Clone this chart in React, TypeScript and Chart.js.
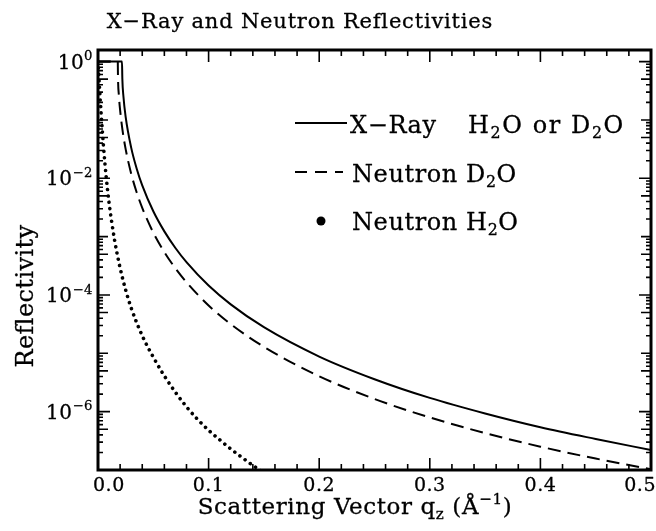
import { useEffect, useRef } from "react";
import { Chart, registerables } from "chart.js";

Chart.register(...registerables);

// Reflectivity curves for a water surface
const qXray = [0, 0.0217, 0.022, 0.023, 0.025, 0.03, 0.035, 0.04, 0.05, 0.06, 0.07, 0.08, 0.1, 0.12, 0.15, 0.2, 0.25, 0.3, 0.35, 0.4, 0.45, 0.5];
const rXray = [1, 1, 0.515, 0.252, 0.113, 0.0335, 0.0146, 0.00756, 0.00272, 0.00123, 0.000638, 0.000365, 0.000145, 6.9e-5, 2.8e-5, 8.8e-6, 3.6e-6, 1.72e-6, 9.3e-7, 5.4e-7, 3.4e-7, 2.2e-7];

const qD2O = [0, 0.0179, 0.018, 0.019, 0.02, 0.022, 0.025, 0.03, 0.035, 0.04, 0.05, 0.06, 0.07, 0.08, 0.1, 0.12, 0.15, 0.2, 0.25, 0.3, 0.35, 0.4, 0.45, 0.5];
const rD2O = [1, 1, 0.655, 0.248, 0.147, 0.0701, 0.0316, 0.012, 0.00572, 0.00311, 0.00117, 0.000543, 0.000286, 0.000165, 6.6e-5, 3.16e-5, 1.29e-5, 4.04e-6, 1.65e-6, 7.95e-7, 4.29e-7, 2.51e-7, 1.57e-7, 1.03e-7];

const qH2O = [0, 0.0005, 0.001, 0.002, 0.003, 0.005, 0.0075, 0.01, 0.015, 0.02, 0.025, 0.03, 0.04, 0.05, 0.06, 0.07, 0.08, 0.09, 0.1, 0.11, 0.12, 0.13, 0.14, 0.15];
const rH2O = [1, 0.686, 0.473, 0.229, 0.116, 0.0347, 0.0102, 0.00383, 8.7e-4, 2.9e-4, 1.22e-4, 6.0e-5, 2.0e-5, 8.6e-6, 4.1e-6, 2.15e-6, 1.21e-6, 7.4e-7, 4.8e-7, 3.3e-7, 2.3e-7, 1.65e-7, 1.2e-7, 9.0e-8];

const xTickValues = [0, 0.1, 0.2, 0.3, 0.4, 0.5];
const xTickLabels = ["0.0", "0.1", "0.2", "0.3", "0.4", "0.5"];
const yLabelExponents = [0, -2, -4, -6];
const xRange = [0, 0.5];
const yRange = [1e-7, 1.58];

const titleText = "X−Ray and Neutron Reflectivities";
const yTitleText = "Reflectivity";
type Run = [string, "" | "sub" | "sup"];
const xTitleRuns: Run[] = [["Scattering Vector q", ""], ["z", "sub"], [" (Å", ""], ["−1", "sup"], [")", ""]];
const legendSamples = ["solid", "dashed", "dot"];
const legendRuns: Run[][][] = [
  [[["X−Ray", ""]], [["H", ""], ["2", "sub"], ["O or D", ""], ["2", "sub"], ["O", ""]]],
  [[["Neutron D", ""], ["2", "sub"], ["O", ""]]],
  [[["Neutron H", ""], ["2", "sub"], ["O", ""]]],
];

const FAMILY = "'DejaVu Serif', serif";

function setSpacing(ctx: CanvasRenderingContext2D, px: number) {
  (ctx as any).letterSpacing = `${px}px`;
}

function runsWidth(ctx: CanvasRenderingContext2D, runs: Run[], size: number) {
  let w = 0;
  for (const [t, k] of runs) {
    ctx.font = `${k ? size * 0.66 : size}px ${FAMILY}`;
    w += ctx.measureText(t).width;
  }
  return w;
}

function drawText(ctx: CanvasRenderingContext2D, t: string, x: number, y: number) {
  ctx.fillText(t, x, y);
  ctx.strokeText(t, x, y);
}

function drawRuns(ctx: CanvasRenderingContext2D, runs: Run[], x: number, y: number, size: number, align: "left" | "center" | "right") {
  const w = runsWidth(ctx, runs, size);
  let cx = align === "left" ? x : align === "center" ? x - w / 2 : x - w;
  ctx.textAlign = "left";
  ctx.textBaseline = "alphabetic";
  for (const [t, k] of runs) {
    const s = k ? size * 0.66 : size;
    ctx.font = `${s}px ${FAMILY}`;
    const dy = k === "sub" ? size * 0.22 : k === "sup" ? -size * 0.42 : 0;
    drawText(ctx, t, cx, y + dy);
    cx += ctx.measureText(t).width;
  }
}

const decorPlugin = {
  id: "decor",
  afterDatasetsDraw(chart: any) {
    const { ctx, chartArea: a, scales } = chart;
    const xs = scales.x;
    const ys = scales.y;
    ctx.save();
    ctx.strokeStyle = "#000";
    ctx.fillStyle = "#000";

    // inward ticks on all four sides
    ctx.lineWidth = 1.6;
    ctx.beginPath();
    for (let i = 0; i <= 25; i++) {
      const px = xs.getPixelForValue(i * 0.02);
      const len = i % 5 === 0 ? 12 : 6;
      ctx.moveTo(px, a.bottom);
      ctx.lineTo(px, a.bottom - len);
      ctx.moveTo(px, a.top);
      ctx.lineTo(px, a.top + len);
    }
    for (let e = -7; e <= 0; e++) {
      for (let m = 1; m <= 9; m++) {
        const v = m * Math.pow(10, e);
        if (v < yRange[0] * 0.999 || v > yRange[1]) continue;
        const py = ys.getPixelForValue(v);
        let len = 5;
        if (m === 1) len = e % 2 === 0 ? 12 : 10;
        else if (m === 5) len = 10;
        ctx.moveTo(a.left, py);
        ctx.lineTo(a.left + len, py);
        ctx.moveTo(a.right, py);
        ctx.lineTo(a.right - len, py);
      }
    }
    ctx.stroke();

    // frame
    ctx.lineWidth = 3;
    ctx.strokeRect(a.left, a.top, a.right - a.left, a.bottom - a.top);

    // text is filled and lightly stroked for a slightly heavier weight
    ctx.lineWidth = 0.3;
    ctx.lineJoin = "round";

    // x tick labels
    setSpacing(ctx, 0.5);
    ctx.font = `19px ${FAMILY}`;
    ctx.textBaseline = "alphabetic";
    xTickValues.forEach((v, i) => {
      const px = xs.getPixelForValue(v);
      const y = a.bottom + 21;
      if (i === 0) {
        ctx.textAlign = "left";
        drawText(ctx, xTickLabels[i], px - 5, y);
      } else if (i === xTickValues.length - 1) {
        ctx.textAlign = "right";
        drawText(ctx, xTickLabels[i], px + 5, y);
      } else {
        ctx.textAlign = "center";
        drawText(ctx, xTickLabels[i], px, y);
      }
    });

    // y tick labels as powers of ten
    setSpacing(ctx, 0.5);
    yLabelExponents.forEach((e) => {
      const py = ys.getPixelForValue(Math.pow(10, e));
      const sup = e < 0 ? "−" + String(-e) : String(e);
      drawRuns(ctx, [["10", ""], [sup, "sup"]], a.left - 5, py + 7, 20, "right");
    });

    // chart title
    setSpacing(ctx, 0.8);
    ctx.font = `21px ${FAMILY}`;
    ctx.textAlign = "center";
    drawText(ctx, titleText, 300, 28);

    // axis titles
    setSpacing(ctx, 0.6);
    drawRuns(ctx, xTitleRuns, 355, 514, 23, "center");
    ctx.save();
    ctx.translate(33, 296);
    ctx.rotate(-Math.PI / 2);
    setSpacing(ctx, 0.4);
    ctx.font = `24px ${FAMILY}`;
    ctx.textAlign = "center";
    drawText(ctx, yTitleText, 0, 0);
    ctx.restore();

    // legend
    const rows = [133, 182, 230];
    ctx.lineWidth = 2;
    legendSamples.forEach((kind, i) => {
      const ly = rows[i] - 10;
      if (kind === "dot") {
        ctx.beginPath();
        ctx.arc(321, ly + 1, 4.5, 0, Math.PI * 2);
        ctx.fill();
        return;
      }
      ctx.setLineDash(kind === "dashed" ? [12, 8] : []);
      ctx.beginPath();
      ctx.moveTo(295, ly);
      ctx.lineTo(kind === "dashed" ? 343 : 347, ly);
      ctx.stroke();
      ctx.setLineDash([]);
    });
    ctx.lineWidth = 0.3;
    legendRuns.forEach((parts, i) => {
      const starts = i === 0 ? [350, 468] : [352];
      parts.forEach((runs, j) => {
        setSpacing(ctx, i === 0 && j === 1 ? 1.6 : 0.6);
        drawRuns(ctx, runs, starts[j], rows[i], 24, "left");
      });
    });
    setSpacing(ctx, 0);

    ctx.restore();
  },
};

export default function App() {
  const ref = useRef<HTMLCanvasElement | null>(null);
  useEffect(() => {
    if (!ref.current) return;
    const toPts = (q: number[], r: number[]) => q.map((x, i) => ({ x, y: r[i] }));
    const chart = new Chart(ref.current, {
      type: "line",
      data: {
        datasets: [
          {
            label: "X-Ray H2O or D2O",
            data: toPts(qXray, rXray),
            borderColor: "#000",
            borderWidth: 2,
            pointRadius: 0,
            cubicInterpolationMode: "monotone",
          },
          {
            label: "Neutron D2O",
            data: toPts(qD2O, rD2O),
            borderColor: "#000",
            borderWidth: 2,
            borderDash: [13, 7],
            pointRadius: 0,
            cubicInterpolationMode: "monotone",
          },
          {
            label: "Neutron H2O",
            data: toPts(qH2O, rH2O),
            borderColor: "#000",
            borderWidth: 3.6,
            borderDash: [0.01, 6.4],
            borderCapStyle: "round",
            pointRadius: 0,
            cubicInterpolationMode: "monotone",
          },
        ],
      },
      options: {
        animation: false,
        responsive: false,
        events: [],
        layout: { padding: { left: 98, top: 50, right: 5, bottom: 61 } },
        plugins: { legend: { display: false }, title: { display: false }, tooltip: { enabled: false } },
        scales: {
          x: { type: "linear", min: xRange[0], max: xRange[1], display: false },
          y: { type: "logarithmic", min: yRange[0], max: yRange[1], display: false },
        },
      },
      plugins: [decorPlugin],
    } as any);
    return () => chart.destroy();
  }, []);
  return (
    <div style={{ position: "absolute", left: 0, top: 0, width: 656, height: 531, background: "#fff" }}>
      <canvas ref={ref} width={656} height={531} style={{ display: "block" }} />
    </div>
  );
}
